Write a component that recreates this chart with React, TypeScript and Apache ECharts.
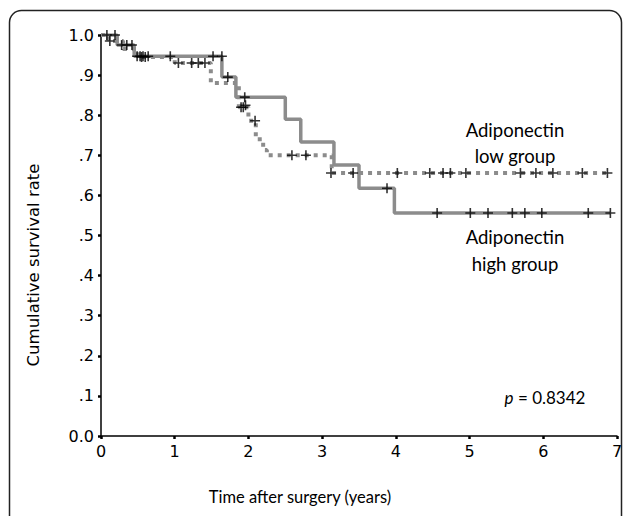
import React, { useEffect, useRef } from "react";
import * as echarts from "echarts";

// Kaplan–Meier step points: time (years) at which survival becomes value
const highTimes = [0, 0.22, 0.45, 1.64, 1.83, 2.5, 2.71, 3.16, 3.5, 3.98, 6.91];
const highSurv = [1.0, 0.975, 0.947, 0.895, 0.845, 0.79, 0.733, 0.676, 0.618, 0.556, 0.556];

const lowTimes = [0, 0.1, 0.3, 0.5, 1.0, 1.49, 1.87, 2.0, 2.1, 2.2, 2.25, 3.13, 6.9];
const lowSurv = [1.0, 0.985, 0.965, 0.945, 0.93, 0.88, 0.82, 0.786, 0.74, 0.713, 0.7, 0.656, 0.656];

// censored observations
const highCensorTimes = [0.08, 0.19, 0.28, 0.35, 0.42, 0.49, 0.53, 0.57, 0.64, 0.94, 1.52, 1.64, 1.72, 1.95, 3.88, 4.56, 5.01, 5.25, 5.58, 5.75, 5.98, 6.61, 6.91];
const highCensorSurv = [1.0, 1.0, 0.975, 0.975, 0.975, 0.947, 0.947, 0.947, 0.947, 0.947, 0.947, 0.947, 0.895, 0.845, 0.618, 0.556, 0.556, 0.556, 0.556, 0.556, 0.556, 0.556, 0.556];

const lowCensorTimes = [0.12, 0.55, 0.6, 1.05, 1.23, 1.32, 1.41, 1.9, 1.93, 1.96, 2.09, 2.59, 2.78, 3.12, 3.42, 4.02, 4.46, 4.64, 4.74, 4.95, 5.69, 5.9, 6.13, 6.53, 6.87];
const lowCensorSurv = [0.985, 0.945, 0.945, 0.93, 0.93, 0.93, 0.93, 0.82, 0.82, 0.825, 0.786, 0.7, 0.7, 0.656, 0.656, 0.656, 0.656, 0.656, 0.656, 0.656, 0.656, 0.656, 0.656, 0.656, 0.656];

const xTicks = [0, 1, 2, 3, 4, 5, 6, 7];
const yTickLabels = ["0.0", ".1", ".2", ".3", ".4", ".5", ".6", ".7", ".8", ".9", "1.0"];

const plusPath = "path://M4.2,0h1.6v4.2h4.2v1.6h-4.2v4.2h-1.6v-4.2h-4.2v-1.6h4.2z";

export default function App() {
  const ref = useRef<HTMLDivElement>(null);
  useEffect(() => {
    if (!ref.current) return;
    const chart = echarts.init(ref.current, null, { renderer: "svg" });
    const zip = (a: number[], b: number[]) => a.map((v, i) => [v, b[i]]);
    const tickFont = "DejaVu Sans";
    const annFont = "Lato";
    chart.setOption({
      animation: false,
      backgroundColor: "#ffffff",
      grid: { left: 101, top: 35, right: 10, bottom: 80, containLabel: false },
      xAxis: {
        type: "value",
        min: 0,
        max: 7,
        interval: 1,
        axisLine: { show: true, lineStyle: { color: "#000", width: 1.5 } },
        axisTick: { show: true, length: 3, lineStyle: { color: "#000", width: 2.5 } },
        axisLabel: {
          color: "#000",
          fontFamily: tickFont,
          fontSize: 16,
          margin: 7,
          formatter: (v: number) => (xTicks.includes(v) ? String(v) : ""),
        },
        splitLine: { show: false },
      },
      yAxis: {
        type: "value",
        min: 0,
        max: 1,
        interval: 0.1,
        axisLine: { show: true, lineStyle: { color: "#000", width: 1.5 } },
        axisTick: { show: true, length: 3, lineStyle: { color: "#000", width: 2.5 } },
        axisLabel: {
          color: "#000",
          fontFamily: tickFont,
          fontSize: 16,
          margin: 7,
          formatter: (v: number) => yTickLabels[Math.round(v * 10)] ?? "",
        },
        splitLine: { show: false },
      },
      series: [
        {
          type: "line",
          step: "end",
          data: zip(lowTimes, lowSurv),
          symbol: "none",
          lineStyle: { color: "#8c8c8c", width: 4, type: [4, 5], cap: "butt" },
          z: 2,
        },
        {
          type: "line",
          step: "end",
          data: zip(highTimes, highSurv),
          symbol: "none",
          lineStyle: { color: "#8c8c8c", width: 3.5 },
          z: 3,
        },
        {
          type: "scatter",
          data: zip(highCensorTimes, highCensorSurv),
          symbol: plusPath,
          symbolSize: 10,
          itemStyle: { color: "#000" },
          z: 5,
        },
        {
          type: "scatter",
          data: zip(lowCensorTimes, lowCensorSurv),
          symbol: plusPath,
          symbolSize: 10,
          itemStyle: { color: "#000" },
          z: 5,
        },
      ],
      graphic: [
        {
          type: "rect",
          shape: { x: 9.5, y: 10.5, width: 612, height: 540, r: 12 },
          style: { fill: "none", stroke: "#222", lineWidth: 1.5 },
          z: -1,
        },
        {
          type: "text",
          x: 33,
          y: 265,
          rotation: Math.PI / 2,
          style: { text: "Cumulative survival rate", fontFamily: tickFont, fontSize: 16.5, fill: "#000", textAlign: "center", textVerticalAlign: "middle" },
        },
        {
          type: "text",
          x: 300,
          y: 497,
          style: { text: "Time after surgery (years)", fontFamily: annFont, fontSize: 16.5, fill: "#000", textAlign: "center", textVerticalAlign: "middle" },
        },
        {
          type: "text",
          x: 515,
          y: 130,
          style: { text: "Adiponectin", fontFamily: annFont, fontSize: 18.5, fill: "#000", textAlign: "center", textVerticalAlign: "middle" },
        },
        {
          type: "text",
          x: 515,
          y: 156,
          style: { text: "low group", fontFamily: annFont, fontSize: 18.5, fill: "#000", textAlign: "center", textVerticalAlign: "middle" },
        },
        {
          type: "text",
          x: 515,
          y: 237,
          style: { text: "Adiponectin", fontFamily: annFont, fontSize: 18.5, fill: "#000", textAlign: "center", textVerticalAlign: "middle" },
        },
        {
          type: "text",
          x: 515,
          y: 264,
          style: { text: "high group", fontFamily: annFont, fontSize: 18.5, fill: "#000", textAlign: "center", textVerticalAlign: "middle" },
        },
        {
          type: "text",
          x: 545,
          y: 397,
          style: {
            text: "{i|p} = 0.8342",
            fontFamily: annFont,
            fontSize: 17,
            fill: "#000",
            textAlign: "center",
            textVerticalAlign: "middle",
            rich: { i: { fontStyle: "italic", fontFamily: annFont, fontSize: 17, fill: "#000" } },
          },
        },
      ],
    });
    return () => chart.dispose();
  }, []);
  return (
    <div
      ref={ref}
      style={{ position: "fixed", left: 0, top: 0, width: 627, height: 516, background: "#fff" }}
    />
  );
}
